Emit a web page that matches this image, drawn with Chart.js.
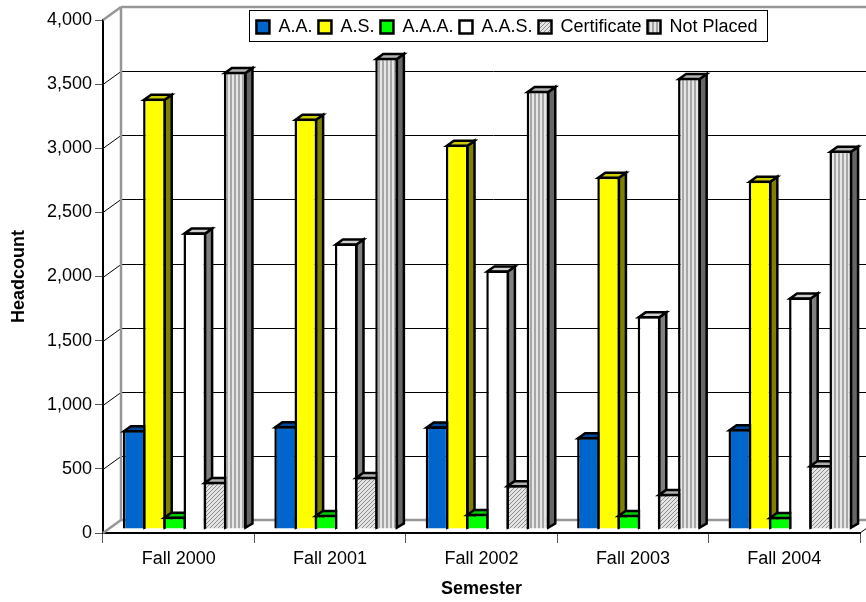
<!doctype html>
<html>

<head>
    <title>Headcount by Semester</title>
    <script src="https://cdn.jsdelivr.net/npm/chart.js@4/dist/chart.umd.js"></script>
    <style>
    html, body { margin: 0; padding: 0; background: #fff; }
    #wrap { width: 866px; height: 602px; }
    </style>
</head>

<body>
    <div id="wrap"><canvas id="canvas"></canvas></div>
    <script>
    var semesters = ["Fall 2000", "Fall 2001", "Fall 2002", "Fall 2003", "Fall 2004"];
    var seriesNames = ["A.A.", "A.S.", "A.A.A.", "A.A.S.", "Certificate", "Not Placed"];
    var aa = [770, 802, 800, 716, 778];
    var as = [3354, 3198, 2996, 2747, 2716];
    var aaa = [95, 110, 117, 109, 93];
    var aas = [2311, 2226, 2016, 1658, 1805];
    var certificate = [366, 405, 342, 272, 498];
    var notPlaced = [3564, 3673, 3416, 3517, 2949];

    var FONT = "'Liberation Sans', Arial, sans-serif";
    var WALL_DX = 18, WALL_DY = 13;   // depth of the back wall
    var BAR_DX = 6, BAR_DY = 4;       // bars stand a bit behind the front axis
    var DEPTH_X = 7, DEPTH_Y = 5;     // depth of a bar

    function hatchPattern() {
        var c = document.createElement('canvas');
        c.width = 4; c.height = 4;
        var g = c.getContext('2d');
        g.fillStyle = '#e4e4e4';
        g.fillRect(0, 0, 4, 4);
        g.fillStyle = '#8c8c8c';
        g.fillRect(3, 0, 1, 1); g.fillRect(2, 1, 1, 1); g.fillRect(1, 2, 1, 1); g.fillRect(0, 3, 1, 1);
        return g.createPattern(c, 'repeat');
    }

    function stripePattern() {
        var c = document.createElement('canvas');
        c.width = 4; c.height = 4;
        var g = c.getContext('2d');
        g.fillStyle = '#e6e6e6';
        g.fillRect(0, 0, 4, 4);
        g.fillStyle = '#a6a6a6';
        g.fillRect(0, 0, 2, 4);
        return g.createPattern(c, 'repeat');
    }

    var fronts = ['#0066cc', '#ffff00', '#00ff00', '#ffffff', hatchPattern(), stripePattern()];
    var tops = ['#00479a', '#cccc00', '#00cc00', '#d0d0d0', '#b0b0b0', '#b4b4b4'];
    var sides = ['#003366', '#808000', '#008000', '#808080', '#808080', '#666666'];
    var values = [aa, as, aaa, aas, certificate, notPlaced];

    var datasets = seriesNames.map(function(name, i) {
        return {
            label: name,
            data: values[i],
            backgroundColor: fronts[i],
            borderColor: '#000',
            borderWidth: 2.5,
            categoryPercentage: 0.8,
            barPercentage: 1.12   // neighbours share their outline
        };
    });

    function line(ctx, x1, y1, x2, y2) {
        ctx.beginPath();
        ctx.moveTo(x1, y1);
        ctx.lineTo(x2, y2);
        ctx.stroke();
    }

    function poly(ctx, pts, fill) {
        ctx.beginPath();
        ctx.moveTo(pts[0], pts[1]);
        for (var i = 2; i < pts.length; i += 2) ctx.lineTo(pts[i], pts[i + 1]);
        ctx.closePath();
        ctx.fillStyle = fill;
        ctx.fill();
        ctx.stroke();
    }

    var wallPlugin = {
        id: 'wall',
        afterLayout: function(chart) {
            // the legend floats over the wall, right of centre
            var lg = chart.legend;
            var h = lg.bottom - lg.top;
            lg.left += 77; lg.right += 77;
            lg.top = 12; lg.bottom = 12 + h;
        },
        beforeDatasetsDraw: function(chart) {
            var ctx = chart.ctx, a = chart.chartArea, y = chart.scales.y;
            ctx.save();
            // gridlines on the back wall and the diagonals to the axis
            ctx.strokeStyle = '#000';
            ctx.lineWidth = 1;
            y.ticks.forEach(function(t) {
                if (t.value === 0 || t.value === 4000) return;
                var py = Math.round(y.getPixelForValue(t.value)) + 0.5;
                line(ctx, a.left, py, a.left + WALL_DX, py - WALL_DY);
                line(ctx, a.left + WALL_DX, py - WALL_DY, chart.width, py - WALL_DY);
            });
            // grey outline of the walls and floor
            ctx.strokeStyle = '#969696';
            ctx.lineWidth = 2.5;
            var left = a.left + WALL_DX, topY = a.top - WALL_DY, floorY = a.bottom - WALL_DY;
            line(ctx, left, topY, chart.width, topY);
            line(ctx, left, topY, left, floorY);
            line(ctx, left, floorY, chart.width, floorY);
            line(ctx, a.left, a.top, left, topY);
            line(ctx, a.left, a.bottom, left, floorY);
            // right edge of the floor
            ctx.strokeStyle = '#000';
            ctx.lineWidth = 1;
            line(ctx, a.right, a.bottom, a.right + WALL_DX, floorY);
            ctx.restore();

            // bars, first series first so the next bar covers the side of the last
            ctx.save();
            ctx.translate(BAR_DX, -BAR_DY);
            var area = { left: 0, top: 0, right: chart.width, bottom: chart.height };
            chart.data.datasets.forEach(function(ds, i) {
                chart.getDatasetMeta(i).data.forEach(function(bar) {
                    var l = bar.x - bar.width / 2 + 1, r = bar.x + bar.width / 2 - 1, t = bar.y + 1;
                    ctx.strokeStyle = '#000';
                    ctx.lineWidth = 2.5;
                    ctx.lineJoin = 'miter';
                    poly(ctx, [r, t, r + DEPTH_X, t - DEPTH_Y, r + DEPTH_X, bar.base - DEPTH_Y, r, bar.base - 1], sides[i]);
                    poly(ctx, [l, t, l + DEPTH_X, t - DEPTH_Y, r + DEPTH_X, t - DEPTH_Y, r, t], tops[i]);
                    bar.draw(ctx, area);
                });
            });
            ctx.restore();
            return false;
        },
        afterDraw: function(chart) {
            var ctx = chart.ctx;
            ctx.save();
            ctx.strokeStyle = '#000';
            ctx.lineWidth = 1;
            ctx.strokeRect(249.5, 10.5, 518, 31);
            ctx.restore();
        }
    };

    new Chart(document.getElementById('canvas'), {
        type: 'bar',
        data: { labels: semesters, datasets: datasets },
        plugins: [wallPlugin],
        options: {
            responsive: true,
            maintainAspectRatio: false,
            animation: false,
            layout: { padding: { top: -14, right: 6, bottom: 0, left: 0 } },
            plugins: {
                tooltip: { enabled: false },
                legend: {
                    position: 'top',
                    align: 'center',
                    labels: {
                        color: '#000',
                        font: { family: FONT, size: 18 },
                        boxWidth: 13,
                        boxHeight: 13,
                        padding: 6
                    }
                }
            },
            scales: {
                x: {
                    border: { color: '#000', width: 2 },
                    grid: { display: true, drawOnChartArea: false, color: '#555', tickLength: 10, lineWidth: 1 },
                    ticks: { color: '#000', font: { family: FONT, size: 18 }, padding: 5, maxRotation: 0 },
                    title: { display: true, text: 'Semester', color: '#000', font: { family: FONT, size: 18, weight: 'bold' }, padding: { top: 0, bottom: 2 } },
                    afterFit: function(s) { s.height = 69; }
                },
                y: {
                    min: 0,
                    max: 4000,
                    border: { color: '#000', width: 2 },
                    grid: { display: true, drawOnChartArea: false, color: '#555', tickLength: 8, lineWidth: 1 },
                    ticks: {
                        stepSize: 500,
                        color: '#000',
                        font: { family: FONT, size: 18 },
                        padding: 3,
                        callback: function(v) { return v.toLocaleString('en-US'); }
                    },
                    title: { display: true, text: 'Headcount', color: '#000', font: { family: FONT, size: 18, weight: 'bold' }, padding: { top: 8, bottom: 0 } },
                    afterFit: function(s) { s.width = 103; }
                }
            }
        }
    });
    </script>
</body>

</html>
